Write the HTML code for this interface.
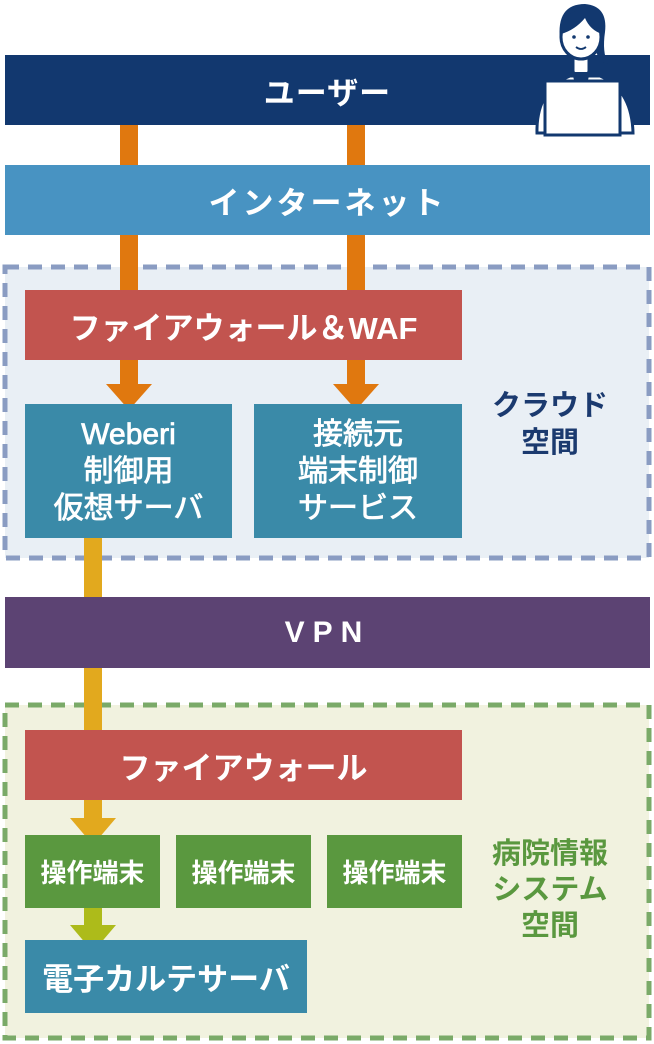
<!DOCTYPE html>
<html><head><meta charset="utf-8"><style>
body{margin:0;width:654px;height:1044px;background:#fff;position:relative;overflow:hidden;font-family:"Liberation Sans","Noto Sans CJK JP",sans-serif;font-weight:bold;color:#fff}
div{position:absolute;box-sizing:border-box}
.c{display:flex;align-items:center;justify-content:center;text-align:center}
</style></head><body>
<svg style="position:absolute;left:0;top:0" width="654" height="1044">
<rect x="5" y="267" width="644" height="291" fill="#e9eff5" stroke="#8a9cc2" stroke-width="5" stroke-dasharray="14 9"/>
<rect x="5" y="705" width="644" height="333" fill="#f1f2df" stroke="#7aaa68" stroke-width="5" stroke-dasharray="14 9"/>
<rect x="120" y="125" width="18" height="262" fill="#e0780f"/>
<rect x="347" y="125" width="18" height="262" fill="#e0780f"/>
</svg>
<div class="c" style="left:5px;top:55px;width:645px;height:70px;background:#12386f;font-size:31px;letter-spacing:1px">ユーザー</div>
<div class="c" style="left:5px;top:165px;width:645px;height:70px;background:#4893c2;font-size:31px;letter-spacing:3px">インターネット</div>
<div class="c" style="left:25px;top:290px;width:437px;height:70px;background:#c2544f;font-size:31px">ファイアウォール＆WAF</div>
<svg style="position:absolute;left:0;top:0" width="654" height="1044">
<polygon points="106,384 152,384 129,410" fill="#e0780f"/>
<polygon points="333,384 379,384 356,410" fill="#e0780f"/>
<rect x="84" y="538" width="18" height="60" fill="#e2a91e"/>
<rect x="84" y="668" width="18" height="62" fill="#e2a91e"/>
<rect x="84" y="800" width="18" height="20" fill="#e2a91e"/>
<polygon points="70,818 116,818 93,845" fill="#e2a91e"/>
<rect x="84" y="908" width="18" height="28" fill="#adbb1a"/>
<polygon points="70,925 116,925 93,952" fill="#adbb1a"/>
<!-- user icon -->
<path d="M560,40 Q556,4 585,4 Q608,6 605,32 Q602,52 608,64 Q598,62 596,50 Z" fill="#12386f"/>
<g stroke="#12386f" stroke-width="3" fill="#fff">
<path d="M537,133 Q536,90 570,76 L600,76 Q632,90 633,133 Z"/>
<path d="M573,56 L573,72 Q581,80 589,72 L589,56 Z"/>
<ellipse cx="581" cy="37" rx="20" ry="22"/>
<rect x="545" y="81" width="75" height="54"/>
</g>
<path d="M561,34 Q562,10 585,10 Q600,12 602,34 Q590,30 585,18 Q575,30 561,34 Z" fill="#12386f"/>
<path d="M572,72 L590,72 L588,80 L574,80 Z" fill="#12386f"/>
<circle cx="574" cy="37" r="1.8" fill="#12386f"/><circle cx="588" cy="37" r="1.8" fill="#12386f"/>
<path d="M576,47 Q581,51 586,47" stroke="#12386f" stroke-width="1.8" fill="none"/>
</svg>
<div class="c" style="left:25px;top:404px;width:207px;height:134px;background:#3a8aa8;font-size:30px;line-height:37px;font-weight:normal;-webkit-text-stroke:0.8px #fff">Weberi<br>制御用<br>仮想サーバ</div>
<div class="c" style="left:254px;top:404px;width:208px;height:134px;background:#3a8aa8;font-size:30px;line-height:37px;font-weight:normal;-webkit-text-stroke:0.8px #fff">接続元<br>端末制御<br>サービス</div>
<div class="c" style="left:470px;top:385px;width:160px;height:80px;color:#1b3a6f;font-size:29px;line-height:37px">クラウド<br>空間</div>
<div class="c" style="left:5px;top:597px;width:645px;height:71px;background:#5c4373;font-size:30px;letter-spacing:8px">VPN</div>
<div class="c" style="left:25px;top:730px;width:437px;height:70px;background:#c2544f;font-size:31px">ファイアウォール</div>
<div class="c" style="left:25px;top:835px;width:135px;height:73px;background:#5a983f;font-size:26px">操作端末</div>
<div class="c" style="left:176px;top:835px;width:135px;height:73px;background:#5a983f;font-size:26px">操作端末</div>
<div class="c" style="left:327px;top:835px;width:135px;height:73px;background:#5a983f;font-size:26px">操作端末</div>
<div class="c" style="left:25px;top:940px;width:282px;height:73px;background:#3a8aa8;font-size:31px">電子カルテサーバ</div>
<div class="c" style="left:465px;top:835px;width:170px;height:110px;color:#5a983f;font-size:29px;line-height:36px">病院情報<br>システム<br>空間</div>
</body></html>
